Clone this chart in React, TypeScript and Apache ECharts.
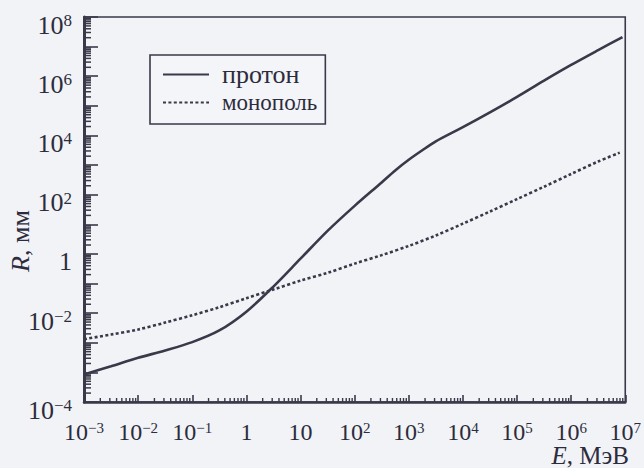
import React, { useEffect, useRef } from "react";
import * as echarts from "echarts";

// Energy E, MeV and range R, mm
const protonE = [0.001, 0.00316, 0.01, 0.0316, 0.1, 0.316, 1, 3.16, 10, 31.6, 100, 316, 562, 1000, 1780, 3160, 10000, 31600, 100000, 316000, 1000000, 3160000, 8900000];
const protonR = [8.5e-5, 1.62e-4, 3.1e-4, 5.5e-4, 1.05e-3, 2.6e-3, 1.12e-2, 7.9e-2, 0.69, 6.0, 42, 260, 660, 1510, 3160, 6300, 19000, 60000, 200000, 710000, 2.4e6, 7.6e6, 2.1e7];

const monopoleE = [0.001, 0.00316, 0.01, 0.0316, 0.1, 0.316, 1, 3.16, 10, 31.6, 100, 316, 1000, 3160, 10000, 31600, 100000, 316000, 1000000, 3160000, 7900000];
const monopoleR = [1.32e-3, 1.9e-3, 2.8e-3, 4.8e-3, 8.5e-3, 1.58e-2, 3.2e-2, 6.3e-2, 0.126, 0.23, 0.47, 0.91, 1.86, 4.2, 10.5, 27, 71, 186, 500, 1320, 2630];

const seriesNames = ["протон", "монополь"];

// tick labels: exponent -> text ("^" marks a superscript)
const xTickExps = [-3, -2, -1, 0, 1, 2, 3, 4, 5, 6, 7];
const xTickLabels = ["10^−3", "10^−2", "10^−1", "1", "10", "10^2", "10^3", "10^4", "10^5", "10^6", "10^7"];
const yTickExps = [8, 6, 4, 2, 0, -2, -5];
const yTickLabels = ["10^8", "10^6", "10^4", "10^2", "1", "10^−2", "10^−4"];

const xMin = 1e-3, xMax = 1e7;
const yMin = 1e-5, yMax = 1e8;

const FONT = "'Liberation Serif', 'Times New Roman', serif";
const INK = "#2c2c3c";
const LINE = "#393949";

function toRich(label: string): string {
  const i = label.indexOf("^");
  if (i < 0) return `{b|${label}}`;
  return `{b|${label.slice(0, i)}}{s|${label.slice(i + 1)}}`;
}

function minorValues(lo: number, hi: number): number[] {
  const out: number[] = [];
  for (let n = lo; n < hi; n++) {
    for (let k = 2; k <= 9; k++) out.push(k * Math.pow(10, n));
  }
  return out;
}

export default function App() {
  const ref = useRef<HTMLDivElement>(null);
  useEffect(() => {
    if (!ref.current) return;
    const chart = echarts.init(ref.current, null, { renderer: "svg" });

    const rich = (size: number, lh: number) => ({
      b: { fontFamily: FONT, fontSize: size, color: INK, lineHeight: lh, verticalAlign: "bottom" },
      s: { fontFamily: FONT, fontSize: Math.round(size * 0.64), color: INK, lineHeight: 12, verticalAlign: "top" },
    });

    const yMinorData = minorValues(-5, 8).map((v) => [xMin, v]);
    const xMinorData = minorValues(-3, 7).map((v) => [v, yMin]);

    chart.setOption({
      animation: false,
      backgroundColor: "#f2f3f7",
      grid: {
        left: 84,
        right: 17,
        top: 17,
        bottom: 66,
        show: true,
        borderColor: LINE,
        borderWidth: 1.6,
        backgroundColor: "transparent",
      },
      legend: {
        orient: "vertical",
        left: 150,
        top: 55,
        padding: [6, 8, 8, 12],
        itemWidth: 46,
        itemHeight: 14,
        itemGap: 1,
        borderColor: LINE,
        borderWidth: 1.6,
        backgroundColor: "#f4f5f8",
        itemStyle: { color: "rgba(0,0,0,0)", borderWidth: 0, opacity: 0 },
        data: [
          { name: seriesNames[0], textStyle: { fontSize: 26, lineHeight: 27 } },
          { name: seriesNames[1], textStyle: { fontSize: 23, lineHeight: 27 } },
        ],
        textStyle: { fontFamily: FONT, color: INK, padding: [0, 0, 0, 8] },
      },
      xAxis: {
        type: "log",
        logBase: 10,
        min: xMin,
        max: xMax,
        interval: 1,
        axisLine: { show: true, lineStyle: { color: LINE, width: 2.5 } },
        axisTick: { show: true, inside: true, length: 7, lineStyle: { color: LINE, width: 1.6 } },
        splitLine: { show: false },
        axisLabel: {
          margin: 18,
          showMinLabel: true,
          showMaxLabel: true,
          hideOverlap: false,
          interval: 0,
          formatter: (v: number) => {
            const e = Math.round(Math.log10(v));
            const i = xTickExps.indexOf(e);
            return i < 0 ? "" : toRich(xTickLabels[i]);
          },
          rich: rich(24, 24),
        },
      },
      yAxis: {
        type: "log",
        logBase: 10,
        min: yMin,
        max: yMax,
        interval: 1,
        axisLine: { show: true, lineStyle: { color: LINE, width: 3 } },
        axisTick: { show: true, inside: true, length: 14, lineStyle: { color: LINE, width: 1.6 } },
        splitLine: { show: false },
        axisLabel: {
          margin: 12,
          showMinLabel: true,
          showMaxLabel: true,
          hideOverlap: false,
          interval: 0,
          padding: [16, 0, 0, 0],
          formatter: (v: number) => {
            const e = Math.round(Math.log10(v));
            const i = yTickExps.indexOf(e);
            return i < 0 ? "" : toRich(yTickLabels[i]);
          },
          rich: rich(26, 26),
        },
      },
      graphic: [
        {
          type: "text",
          right: 15,
          top: 443,
          style: {
            text: "{i|E}{n|, МэВ}",
            rich: {
              i: { fontFamily: FONT, fontSize: 25, fontStyle: "italic", fill: INK },
              n: { fontFamily: FONT, fontSize: 25, fill: INK },
            },
          },
        },
        {
          type: "text",
          x: 20,
          y: 241,
          rotation: Math.PI / 2,
          style: {
            text: "{i|R}{n|, мм}",
            align: "center",
            verticalAlign: "middle",
            rich: {
              i: { fontFamily: FONT, fontSize: 26, fontStyle: "italic", fill: INK },
              n: { fontFamily: FONT, fontSize: 26, fill: INK },
            },
          },
        },
      ],
      series: [
        {
          name: seriesNames[0],
          type: "line",
          data: protonE.map((e, i) => [e, protonR[i]]),
          symbol: "none",
          smooth: 0.3,
          lineStyle: { color: LINE, width: 2.6 },
          itemStyle: { color: LINE },
        },
        {
          name: seriesNames[1],
          type: "line",
          data: monopoleE.map((e, i) => [e, monopoleR[i]]),
          symbol: "none",
          smooth: 0.3,
          lineStyle: { color: LINE, width: 2.6, type: [3, 2.4] },
          itemStyle: { color: LINE },
        },
        {
          type: "custom",
          silent: true,
          clip: false,
          data: yMinorData,
          renderItem: (_p: any, api: any) => {
            const pt = api.coord([api.value(0), api.value(1)]);
            return {
              type: "line",
              shape: { x1: pt[0], y1: pt[1], x2: pt[0] + 7, y2: pt[1] },
              style: { stroke: LINE, lineWidth: 1.5 },
            };
          },
        },
        {
          type: "custom",
          silent: true,
          clip: false,
          data: xMinorData,
          renderItem: (_p: any, api: any) => {
            const pt = api.coord([api.value(0), api.value(1)]);
            return {
              type: "line",
              shape: { x1: pt[0], y1: pt[1], x2: pt[0], y2: pt[1] - 4 },
              style: { stroke: LINE, lineWidth: 1.4 },
            };
          },
        },
      ],
    });
    return () => chart.dispose();
  }, []);
  return (
    <div
      ref={ref}
      style={{ position: "fixed", left: 0, top: 0, width: 644, height: 468 }}
    />
  );
}
